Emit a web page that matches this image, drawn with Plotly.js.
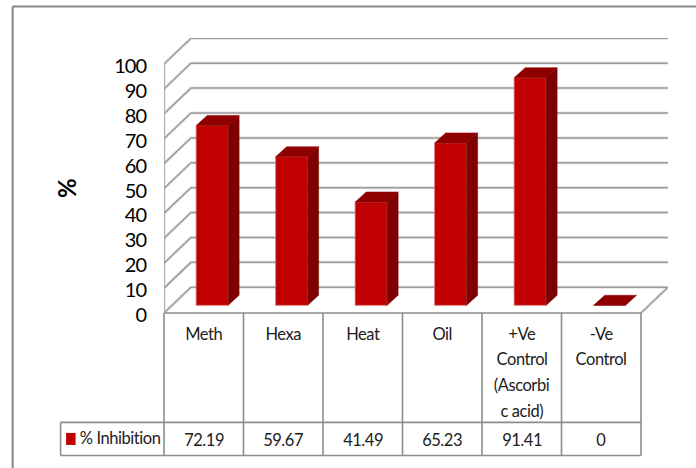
<!DOCTYPE html>
<html>
<head>
<meta charset="utf-8">
<script src="https://cdn.plot.ly/plotly-3.0.1.min.js"></script>
<style>
html,body{margin:0;padding:0;background:#fff}
#chart{width:696px;height:468px}
#chart svg text{letter-spacing:-0.45px}
#chart svg .ytick text{letter-spacing:-1px}
</style>
</head>
<body>
<div id="chart"></div>
<script>
// Percent inhibition per extract, 3D-look column chart with a data table underneath.
const categoryLines = [["Meth"], ["Hexa"], ["Heat"], ["Oil"], ["+Ve", "Control", "(Ascorbi", "c acid)"], ["-Ve", "Control"]];
const inhibition = [72.19, 59.67, 41.49, 65.23, 91.41, 0];
const valueTicks = [0, 10, 20, 30, 40, 50, 60, 70, 80, 90, 100];
const seriesName = "% Inhibition";
const axisTitle = "%";

// Page geometry of the plot box, in pixels
const box = {left: 163.5, right: 668, top: 38, bottom: 312.7};
const pxPerCat = 79.58, pxPerUnit = 2.487;
const FONT = "Lato, 'Liberation Sans', sans-serif";
const GRID = "#9c9c9c", GLOW = "#e6e6e6", FRAME = "#8c8c8c", TEXT = "#1c1c1c";
const FRONT = "#C00000", TOP = "#8E0000", SIDE = "#7E0000", EDGE = "#D9686A";

const idx = inhibition.map((_, i) => i);
const px = x => (x - box.left) / (box.right - box.left);
const py = y => (box.bottom - y) / (box.bottom - box.top);
const xSpan = (box.right - box.left) / pxPerCat, ySpan = (box.bottom - box.top) / pxPerUnit;

// Walls and floor: each level runs across the back and forward along the left wall
const wallDx = 27 / pxPerCat, wallDy = 25.7 / pxPerUnit;
const gx = [], gy = [];
valueTicks.forEach(v => {
  gx.push(-0.5, -0.5 + wallDx, 5.5 + wallDx, null);
  gy.push(v, v + wallDy, v + wallDy, null);
});
gx.push(-0.5, -0.5, null, 5.5, 5.5 + wallDx);
gy.push(0, valueTicks[valueTicks.length - 1], null, 0, wallDy);

// Column depth on the shifted axes used by the column layer
const barW = 32 / pxPerCat, barDx = 11 / pxPerCat, barDy = 10 / pxPerUnit;
const sideX = [], sideY = [], topX = [], topY = [];
idx.forEach(i => {
  const r = i + barW / 2, l = i - barW / 2, v = inhibition[i];
  if (v > 0) {
    sideX.push(r, r + barDx, r + barDx, r, r, null);
    sideY.push(0, barDy, v + barDy, v, 0, null);
  }
  topX.push(l, l + barDx, r + barDx, r, l, null);
  topY.push(v, v + barDy, v + barDy, v, v, null);
});

const traces = [
  {type: "scatter", mode: "lines", x: gx, y: gy, xaxis: "x", yaxis: "y", hoverinfo: "skip",
   line: {color: GLOW, width: 3.2}, connectgaps: false},
  {type: "scatter", mode: "lines", x: gx, y: gy, xaxis: "x", yaxis: "y", hoverinfo: "skip",
   line: {color: GRID, width: 1.5}, connectgaps: false},
  {type: "scatter", mode: "lines", x: sideX, y: sideY, xaxis: "x2", yaxis: "y2", hoverinfo: "skip",
   fill: "toself", fillcolor: SIDE, line: {color: SIDE, width: 0.5}},
  {type: "scatter", mode: "lines", x: topX, y: topY, xaxis: "x2", yaxis: "y2", hoverinfo: "skip",
   fill: "toself", fillcolor: TOP, line: {color: TOP, width: 0.5}},
  {type: "bar", name: seriesName, x: idx, y: inhibition, width: barW, xaxis: "x2", yaxis: "y2",
   marker: {color: FRONT, line: {color: EDGE, width: 0.8}}}
];

// Data table and outer frame
const line = (x0, y0, x1, y1, color, width) => ({type: "line", xref: "paper", yref: "paper",
  x0: px(x0), y0: py(y0), x1: px(x1), y1: py(y1), line: {color, width}});
const rowTop = 422, rowBottom = 455, tableLeft = 60;
const shapes = [
  line(12, 6.5, 696, 6.5, "#858585", 2),
  line(12, 6.5, 12, 468, "#858585", 2),
  line(tableLeft, rowTop, tableLeft, rowBottom, FRAME, 1.6),
  line(tableLeft, rowTop, box.left + 6 * pxPerCat, rowTop, FRAME, 1.6),
  line(tableLeft, rowBottom, box.left + 6 * pxPerCat, rowBottom, FRAME, 1.6),
  line(box.left, box.bottom, box.left + 6 * pxPerCat, box.bottom, FRAME, 1.6),
  {type: "rect", xref: "paper", yref: "paper", x0: px(65.5), x1: px(75), y0: py(432.5), y1: py(444.5),
   fillcolor: FRONT, line: {width: 0}}
];
for (let c = 0; c <= 6; c++) {
  const x = box.left + c * pxPerCat;
  shapes.push(line(x, box.bottom, x, rowBottom, FRAME, 1.6));
}

const annotations = [];
const lineRows = [334, 359, 385, 410.5];
const tableFont = {family: FONT, size: 16.5, color: TEXT};
categoryLines.forEach((lines, i) => lines.slice(1).forEach((t, k) => annotations.push({
  text: t, xref: "x", yref: "paper", x: i, y: py(lineRows[k + 1]), showarrow: false,
  xanchor: "center", yanchor: "middle", font: tableFont
})));
inhibition.forEach((v, i) => annotations.push({
  text: String(v), xref: "x", yref: "paper", x: i, y: py(439.5), showarrow: false,
  xanchor: "center", yanchor: "middle", font: tableFont
}));
annotations.push({text: seriesName, xref: "paper", yref: "paper", x: px(74.5), y: py(438), showarrow: false,
  xanchor: "left", yanchor: "middle", font: tableFont});
annotations.push({text: "<b>" + axisTitle + "</b>", xref: "paper", yref: "paper", x: px(66), y: py(188.5), showarrow: false,
  xanchor: "center", yanchor: "middle", textangle: -90, font: {family: FONT, size: 24, color: "#000"}});

const layout = {
  width: 696, height: 468,
  margin: {l: box.left, r: 696 - box.right, t: box.top, b: 468 - box.bottom, pad: 0},
  paper_bgcolor: "#fff", plot_bgcolor: "rgba(0,0,0,0)",
  showlegend: false, shapes, annotations,
  xaxis: {range: [-0.5, -0.5 + xSpan], tickmode: "array", tickvals: idx, ticktext: categoryLines.map(l => l[0]),
    showgrid: false, zeroline: false, showline: false, ticks: "", ticklabelstandoff: 9,
    tickfont: tableFont, fixedrange: true},
  yaxis: {range: [0, ySpan], tickmode: "array", tickvals: valueTicks, showgrid: false, zeroline: false,
    showline: false, ticks: "", ticklabelstandoff: 17, ticklabelshift: 2,
    tickfont: {family: FONT, size: 20, color: "#000"}, fixedrange: true},
  xaxis2: {overlaying: "x", anchor: "y2", range: [-(211.7 - box.left) / pxPerCat, -(211.7 - box.left) / pxPerCat + xSpan], visible: false, fixedrange: true},
  yaxis2: {overlaying: "y", anchor: "x2", range: [-(box.bottom - 305) / pxPerUnit, -(box.bottom - 305) / pxPerUnit + ySpan], visible: false, fixedrange: true}
};

Plotly.newPlot("chart", traces, layout, {displayModeBar: false, staticPlot: true});
</script>
</body>
</html>
